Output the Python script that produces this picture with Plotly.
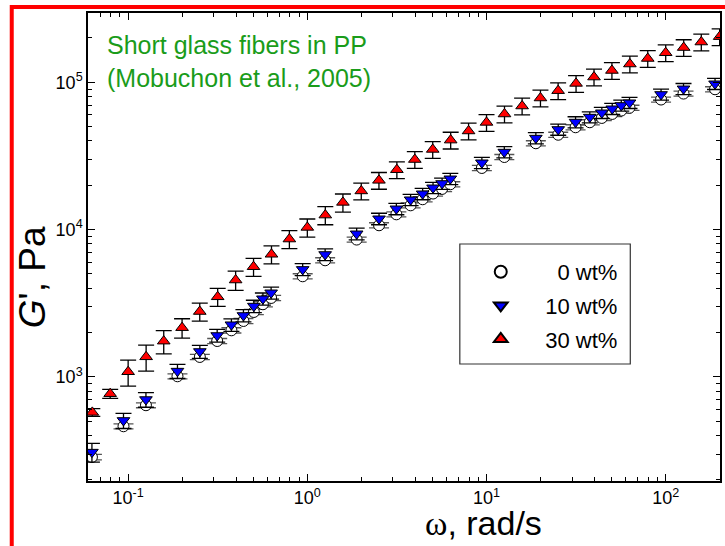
import plotly.graph_objects as go

# ---------------- data ----------------
w_neat = [0.0628, 0.0942, 0.1257, 0.1885, 0.2513, 0.314, 0.377, 0.440, 0.503, 0.565, 0.628,
          0.942, 1.257, 1.885, 2.513, 3.14, 3.77, 4.40, 5.03, 5.65, 6.28,
          9.42, 12.57, 18.85, 25.13, 31.4, 37.7, 44.0, 50.3, 56.5, 62.8,
          94.2, 125.7, 188.5]
g_0 = [286, 463, 643, 1011, 1367, 1754, 2073, 2399, 2761, 3115, 3436,
       4823, 6194, 8560, 10700, 12700, 14620, 16070, 17570, 18880, 20310,
       26200, 31100, 38550, 44040, 49500, 53520, 57260, 60950, 64270, 67140,
       76340, 83800, 89650]
e_0 = [12, 18, 25, 40, 55, 70, 85, 95, 110, 125, 140,
       195, 250, 340, 430, 510, 585, 640, 700, 755, 810,
       1050, 1240, 1540, 1760, 1980, 2140, 2290, 2440, 2570, 2690,
       3050, 3350, 3590]
g_10 = [309, 507, 703, 1096, 1489, 1912, 2262, 2614, 3027, 3394, 3727,
        5370, 6780, 9370, 11850, 13850, 15950, 17510, 19230, 20570, 22130,
        28430, 33590, 41800, 47830, 53700, 58040, 62100, 66100, 69600, 72600,
        82650, 90300, 97700]
e_10 = [45, 60, 80, 120, 150, 190, 220, 250, 290, 320, 350,
        500, 620, 850, 1060, 1240, 1420, 1560, 1700, 1820, 1950,
        2500, 2950, 3650, 4150, 4650, 5000, 5350, 5700, 6000, 6250,
        7100, 7750, 8400]
w_30 = [0.0631, 0.0794, 0.1, 0.126, 0.158, 0.2, 0.251, 0.316, 0.398, 0.501, 0.631,
        0.794, 1.0, 1.26, 1.58, 2.0, 2.51, 3.16, 3.98, 5.01, 6.31,
        7.94, 10, 12.6, 15.8, 20, 25.1, 31.6, 39.8, 50.1, 63.1,
        79.4, 100, 126, 158, 200]
g_30 = [575, 770, 1085, 1370, 1750, 2160, 2780, 3500, 4550, 5600, 6800,
        8630, 10350, 12550, 15300, 18300, 21600, 25500, 29900, 35000, 40500,
        46700, 53400, 60900, 69000, 78200, 87700, 98200, 108500, 120200, 133000,
        145000, 158500, 172000, 187500, 204000]
e_30 = [35, 54, 217, 274, 315, 324, 390, 490, 680, 785, 950,
        1210, 1450, 1760, 2140, 2380, 2810, 3320, 3890, 4550, 5270,
        6070, 6940, 7920, 8970, 10170, 11400, 12770, 14100, 15630, 17290,
        18850, 20600, 22360, 24380, 26520]

NB = "\u00a0"
labels = [NB * 6 + "0 wt%", NB * 4 + "10 wt%", NB * 4 + "30 wt%"]

x_tickvals = [0.1, 1, 10, 100]
x_ticktext = ["10<sup>-1</sup>", "10<sup>0</sup>", "10<sup>1</sup>", "10<sup>2</sup>"]
y_tickvals = [1e3, 1e4, 1e5]
y_ticktext = ["10<sup>3</sup>", "10<sup>4</sup>", "10<sup>5</sup>"]

# ---------------- layout geometry (pixels) ----------------
W, H = 725, 546
L, R, T, B = 88, 722, 13, 481
pw, ph = R - L, B - T


def px(x):
    return (x - L) / pw


def py(y):
    return (B - y) / ph


FONT = "Liberation Sans, Arial, sans-serif"

fig = go.Figure()
fig.add_trace(go.Scatter(
    x=w_neat, y=g_0, mode="markers", name=labels[0], legendgroup="a",
    marker=dict(symbol="circle", size=11, color="white", line=dict(color="black", width=1)),
    error_y=dict(type="data", array=e_0, color="#555555", thickness=1.3, width=10),
))
fig.add_trace(go.Scatter(
    x=w_neat, y=g_10, mode="markers", name=labels[1], legendgroup="b",
    marker=dict(symbol="triangle-down", size=11, color="#0000ff", line=dict(color="black", width=1)),
    error_y=dict(type="data", array=e_10, color="black", thickness=1.3, width=8),
))
fig.add_trace(go.Scatter(
    x=w_30, y=g_30, mode="markers", name=labels[2], legendgroup="c",
    marker=dict(symbol="triangle-up", size=11, color="#ff0000", line=dict(color="black", width=1)),
    error_y=dict(type="data", array=e_30, color="black", thickness=1.3, width=8),
))

axis_common = dict(
    type="log", showgrid=False, zeroline=False,
    showline=True, linecolor="black", linewidth=1.5, mirror="ticks",
    ticks="inside", ticklen=7, tickwidth=1, tickcolor="black",
    tickfont=dict(family=FONT, size=18, color="black"),
    minor=dict(ticks="inside", ticklen=4, tickwidth=1, tickcolor="black", dtick="D1"),
)
fig.update_xaxes(**axis_common, range=[-1.224, 2.303],
                 tickmode="array", tickvals=x_tickvals, ticktext=x_ticktext)
fig.update_yaxes(**axis_common, range=[2.294, 5.470],
                 tickmode="array", tickvals=y_tickvals, ticktext=y_ticktext)

fig.update_layout(
    width=W, height=H,
    margin=dict(l=L, r=W - R, t=T, b=H - B, pad=0),
    paper_bgcolor="white", plot_bgcolor="white",
    showlegend=True,
    legend=dict(
        x=px(482), y=py(251), xanchor="left", yanchor="top",
        borderwidth=0, bgcolor="rgba(0,0,0,0)",
        font=dict(family=FONT, size=22, color="black"),
        tracegroupgap=2, itemsizing="constant",
    ),
    font=dict(family=FONT),
    shapes=[
        dict(type="rect", xref="paper", yref="paper",
             x0=px(461), x1=px(632), y0=py(244), y1=py(364),
             line=dict(color="#333333", width=1.2), fillcolor="white", layer="above"),
        dict(type="rect", xref="paper", yref="paper",
             x0=px(11.5), x1=px(732), y0=py(7), y1=py(549),
             line=dict(color="#ff0000", width=4), fillcolor="rgba(0,0,0,0)", layer="above"),
    ],
    annotations=[
        dict(xref="paper", yref="paper", x=px(105), y=py(29), xanchor="left", yanchor="top",
             text="Short glass fibers in PP<br>(Mobuchon et al., 2005)", align="left",
             showarrow=False, font=dict(family=FONT, size=25, color="#1a9c1a")),
        dict(xref="paper", yref="paper", x=px(485), y=py(523), xanchor="center", yanchor="middle",
             text="<span style='font-family:Liberation Serif, Times New Roman, serif'>ω</span>, rad/s",
             showarrow=False, font=dict(family=FONT, size=34, color="black")),
        dict(xref="paper", yref="paper", x=px(32), y=py(277), xanchor="center", yanchor="middle",
             text="<i>G</i>', Pa", textangle=-90,
             showarrow=False, font=dict(family=FONT, size=37, color="black")),
    ],
)

fig.write_html("out.html")
